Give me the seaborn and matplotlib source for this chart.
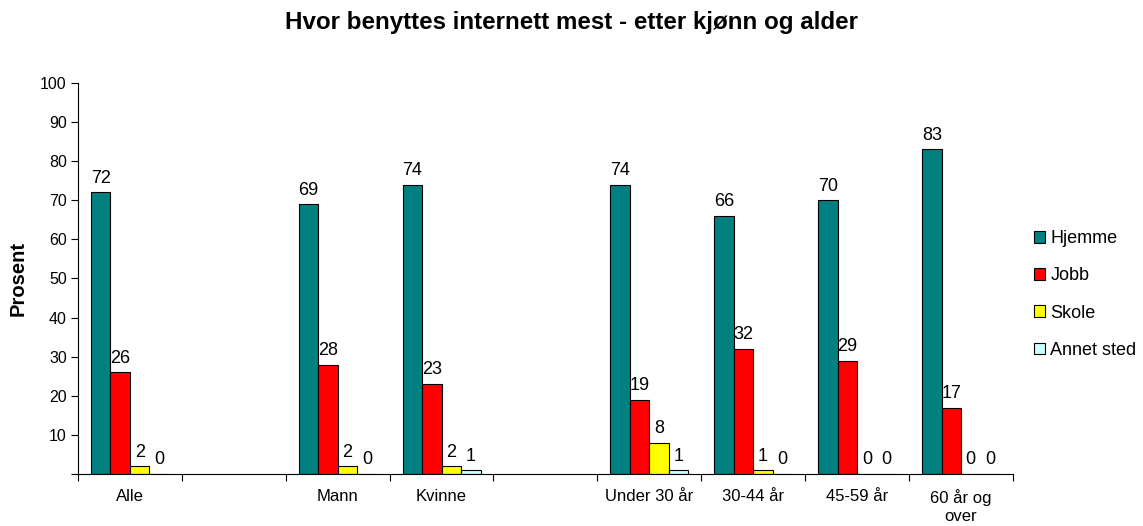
import numpy as np
import pandas as pd
import matplotlib
matplotlib.use("Agg")
import matplotlib.pyplot as plt
import seaborn as sns

# ---- data ----
slots = ["Alle", "_gap1", "Mann", "Kvinne", "_gap2", "Under 30 år", "30-44 år", "45-59 år", "60 år og\nover"]
categories = ["Alle", "Mann", "Kvinne", "Under 30 år", "30-44 år", "45-59 år", "60 år og\nover"]
series = ["Hjemme", "Jobb", "Skole", "Annet sted"]
hjemme = [72, 69, 74, 74, 66, 70, 83]
jobb = [26, 28, 23, 19, 32, 29, 17]
skole = [2, 2, 2, 8, 1, 0, 0]
annet = [0, 0, 1, 1, 0, 0, 0]
colors = ["#008080", "#FF0000", "#FFFF00", "#CCFFFF"]

rows = []
for s, vals in zip(series, [hjemme, jobb, skole, annet]):
    for c, v in zip(categories, vals):
        rows.append({"kategori": c, "serie": s, "verdi": v})
df = pd.DataFrame(rows)

sns.set_style("white")
plt.rcParams["font.family"] = ["Liberation Sans", "DejaVu Sans"]
plt.rcParams["text.color"] = "black"
plt.rcParams["axes.labelcolor"] = "black"
plt.rcParams["xtick.color"] = "black"
plt.rcParams["ytick.color"] = "black"

fig = plt.figure(figsize=(11.43, 5.26), dpi=100)
ax = fig.add_axes([0.0682, 0.0989, 0.8180, 0.7433])

sns.barplot(data=df, x="kategori", y="verdi", hue="serie", order=slots,
            hue_order=series, palette=colors, width=0.75, gap=0,
            edgecolor="black", linewidth=0.8, saturation=1, ax=ax, legend=True)

for cont in ax.containers:
    ax.bar_label(cont, fmt="%d", padding=4, fontsize=13, color="black")

ax.set_ylim(0, 100)
ax.set_xlim(-0.5, len(slots) - 0.5)
ax.set_yticks(np.arange(0, 101, 10))
ax.set_yticklabels([""] + [str(v) for v in range(10, 101, 10)], fontsize=11.5)
ax.set_xticks(range(len(slots)))
ax.set_xticklabels([s if not s.startswith("_") else "" for s in slots], fontsize=12)
ax.set_xticks(np.arange(-0.5, len(slots), 1), minor=True)
ax.tick_params(axis="x", which="major", length=0, pad=11)
ax.tick_params(axis="x", which="minor", length=5, width=0.8, direction="out", bottom=True)
ax.tick_params(axis="y", length=5, width=0.8, direction="out", left=True, pad=3)

for sp in ["top", "right"]:
    ax.spines[sp].set_visible(False)
for sp in ["left", "bottom"]:
    ax.spines[sp].set_color("black")
    ax.spines[sp].set_linewidth(0.8)

ax.set_xlabel("")
ax.set_ylabel("Prosent", fontsize=14.5, fontweight="bold", labelpad=9)
fig.suptitle("Hvor benyttes internett mest - etter kjønn og alder",
             fontsize=17.4, fontweight="bold", x=0.5, y=0.98)

ax.legend(loc="center left", bbox_to_anchor=(1.005, 0.459), frameon=False,
          fontsize=13, handlelength=0.62, handleheight=0.62, labelspacing=1.12,
          handletextpad=0.3)

fig.savefig("out.png", dpi=100)
